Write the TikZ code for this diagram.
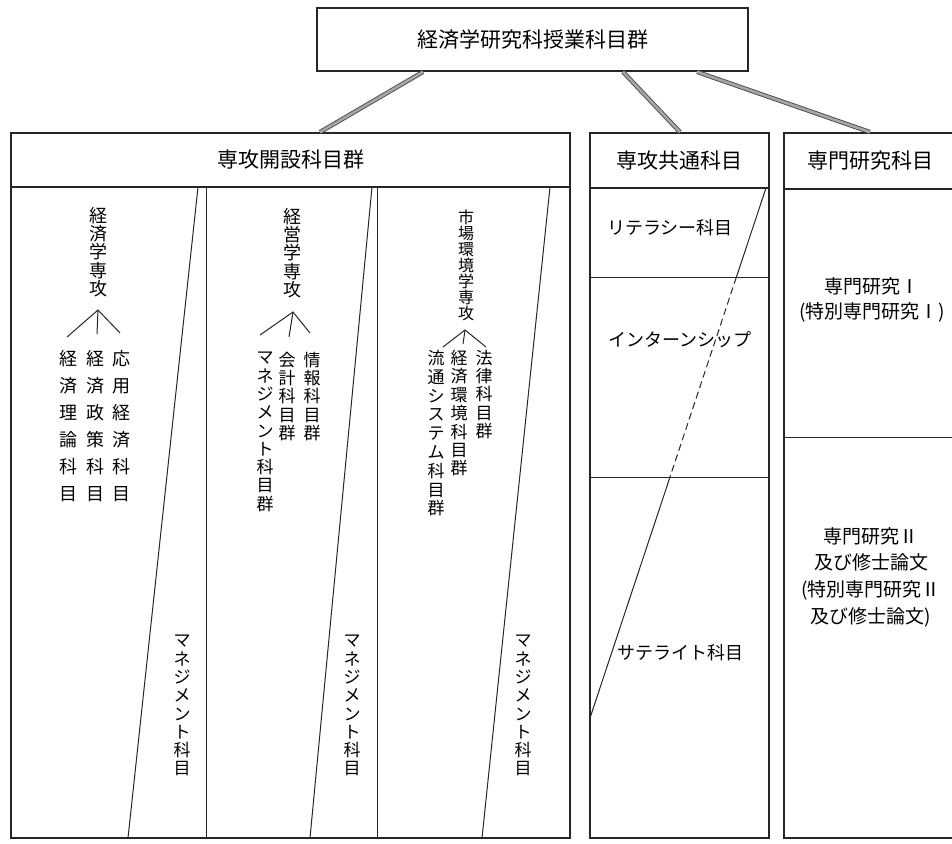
\documentclass[tikz,border=0pt]{standalone}
\usepackage{fontspec}
\newfontfamily\jp{Noto Sans CJK JP}
\begin{document}
\begin{tikzpicture}[x=1pt,y=-1pt,
  frame/.style={draw=black!85,line width=1.8pt,inner sep=0pt},
  thinline/.style={draw=black!85,line width=1pt},
  hdr/.style={draw=black!85,line width=1.8pt,font=\jp\fontsize{21}{24}\selectfont,inner sep=0pt},
  link/.style={draw=black!70,line width=0.9pt,double=black!35,double distance=2.6pt},
  htxt/.style={font=\jp\fontsize{18}{20}\selectfont,inner sep=0pt},
  rtxt/.style n args={2}{font=\jp\fontsize{#1}{#2}\selectfont,align=center,inner sep=0pt},
  vt/.style n args={2}{font=\jp\fontsize{#1}{#2}\selectfont,align=center,anchor=north,inner sep=0pt},
]
\useasboundingbox (0,0) rectangle (952,843);

% top box and headers
\node[hdr, minimum width=431pt, minimum height=63pt] (top) at (532.5,39.5) {経済学研究科授業科目群};
\node[hdr, minimum width=559pt, minimum height=54pt] (h1) at (290.5,160) {専攻開設科目群};
\node[hdr, minimum width=179pt, minimum height=55pt] (h2) at (679.5,160.5) {専攻共通科目};
\node[hdr, minimum width=172pt, minimum height=56pt] (h3) at (870,161) {専門研究科目};

% bodies
\node[frame, minimum width=559pt, minimum height=651pt] (b1) at (290.5,512.5) {};
\node[frame, minimum width=179pt, minimum height=650pt] (b2) at (679.5,513) {};
\node[frame, minimum width=172pt, minimum height=649pt] (b3) at (870,513.5) {};

% connectors
\draw[link] ([xshift=-109.5pt]top.south) -- ([xshift=29.5pt]h1.north);
\draw[link] ([xshift=90.5pt]top.south) -- ([xshift=0.5pt]h2.north);
\draw[link] ([xshift=164.5pt]top.south) -- (h3.north);

% left body dividers
\draw[thinline] (206,187) -- (206,838);
\draw[thinline] (377,187) -- (377,838);
\draw[thinline] (198,187) -- (128,838);
\draw[thinline] (372,187) -- (310,838);
\draw[thinline] (550,187) -- (482,838);

% middle body
\draw[thinline] (590,277) -- (769,277);
\draw[thinline] (590,477) -- (769,477);
\draw[thinline] (766,188) -- (736.4,277);
\draw[thinline, dash pattern=on 7pt off 4pt] (736.4,277) -- (670,477);
\draw[thinline] (670,477) -- (590,718);

% right body
\draw[thinline] (784,437) -- (956,437);

% middle texts
\node[htxt, anchor=west] (lit) at (607,228) {リテラシー科目};
\node[htxt, anchor=west] (intern) at (608,340) {インターンシップ};
\node[htxt, anchor=west] (sat) at (617,653) {サテライト科目};

% right texts
\node[rtxt={19}{25}] (r1) at (872,299.5) {専門研究Ⅰ\\(特別専門研究Ⅰ)};
\node[rtxt={19}{26.7}] (r2) at (871,577) {専門研究Ⅱ\\及び修士論文\\(特別専門研究Ⅱ\\及び修士論文)};

% panel 1
\node[vt={18}{18.25}] (v1) at (98,207) {経\\済\\学\\専\\攻};
\coordinate (a1) at (98,310);
\coordinate (a1l) at (67,337);
\coordinate (a1m) at (97,334);
\coordinate (a1r) at (120,333);
\draw[thinline] (a1l) -- (a1) -- (a1r);
\draw[thinline] (a1) -- (a1m);
\node[vt={18}{27}] (c11) at (68,350) {経\\済\\理\\論\\科\\目};
\node[vt={18}{27}] (c12) at (95,350) {経\\済\\政\\策\\科\\目};
\node[vt={18}{27}] (c13) at (121,350) {応\\用\\経\\済\\科\\目};

% panel 2
\node[vt={18}{18.25}] (v2) at (292,208) {経\\営\\学\\専\\攻};
\coordinate (a2) at (293,312);
\coordinate (a2l) at (260,335);
\coordinate (a2m) at (289,337);
\coordinate (a2r) at (310,333);
\draw[thinline] (a2l) -- (a2) -- (a2r);
\draw[thinline] (a2) -- (a2m);
\node[vt={17}{18.3}] (c21) at (265,352) {マ\\ネ\\ジ\\メ\\ン\\ト\\科\\目\\群};
\node[vt={17}{18.25}] (c22) at (287,352) {会\\計\\科\\目\\群};
\node[vt={17}{18.25}] (c23) at (312,352) {情\\報\\科\\目\\群};

% panel 3
\node[vt={16}{16}] (v3) at (466,210) {市\\場\\環\\境\\学\\専\\攻};
\coordinate (a3) at (465,330);
\coordinate (a3l) at (443,347);
\coordinate (a3m) at (463,344);
\coordinate (a3r) at (486,347);
\draw[thinline] (a3l) -- (a3) -- (a3r);
\draw[thinline] (a3) -- (a3m);
\node[vt={17}{18.8}] (c31) at (436,350) {流\\通\\シ\\ス\\テ\\ム\\科\\目\\群};
\node[vt={17}{18.4}] (c32) at (459,350) {経\\済\\環\\境\\科\\目\\群};
\node[vt={17}{18.25}] (c33) at (484,350) {法\\律\\科\\目\\群};

% management subjects
\node[vt={17}{18.3}] (m1) at (182,635) {マ\\ネ\\ジ\\メ\\ン\\ト\\科\\目};
\node[vt={17}{18.3}] (m2) at (352,635) {マ\\ネ\\ジ\\メ\\ン\\ト\\科\\目};
\node[vt={17}{18.3}] (m3) at (523,635) {マ\\ネ\\ジ\\メ\\ン\\ト\\科\\目};
\end{tikzpicture}
\end{document}
